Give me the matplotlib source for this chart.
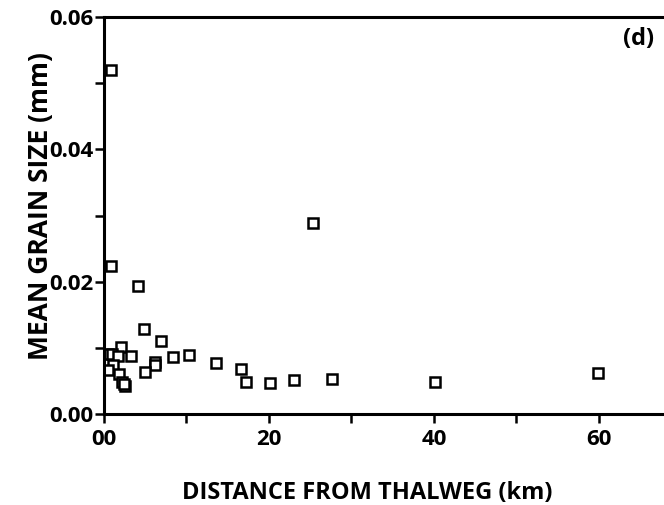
import matplotlib
matplotlib.use('Agg')
import matplotlib.pyplot as plt
from matplotlib.ticker import MultipleLocator

plt.rcParams['font.family'] = ['Open Sans', 'DejaVu Sans']
plt.rcParams['font.weight'] = 'bold'

# distance from thalweg (km) and mean grain size (mm)
distance_km = [0.85, 0.85, 4.1, 4.9, 6.9, 2.1, 0.5, 0.97, 1.66, 3.3,
               8.4, 10.3, 1.1, 0.5, 6.2, 6.2, 5.0, 1.85, 2.2, 2.5,
               2.4, 13.6, 16.6, 17.2, 20.1, 23.0, 25.4, 27.6, 40.1, 59.9]
grain_mm = [0.0520, 0.0224, 0.0193, 0.0128, 0.0110, 0.0102, 0.0091, 0.0091, 0.0088, 0.0088,
            0.0086, 0.0089, 0.0074, 0.0067, 0.0078, 0.0074, 0.0063, 0.0060, 0.0048, 0.0043,
            0.0046, 0.0077, 0.0068, 0.0049, 0.0047, 0.0052, 0.0289, 0.0053, 0.0048, 0.0062]

x_ticks = [0, 20, 40, 60]
x_tick_labels = ['00', '20', '40', '60']
y_ticks = [0.00, 0.02, 0.04, 0.06]
y_tick_labels = ['0.00', '0.02', '0.04', '0.06']

fig = plt.figure(figsize=(6.64, 5.05), dpi=100)
ax = fig.add_axes([104 / 664, 1 - 414 / 505, 1 - 104 / 664, (414 - 17) / 505])

ax.plot(distance_km, grain_mm, linestyle='none', marker='s', markersize=6.5,
        markerfacecolor='white', markeredgecolor='black', markeredgewidth=1.8)

ax.set_xlim(0, 67.9)
ax.set_ylim(0, 0.06)
ax.set_xticks(x_ticks)
ax.set_xticklabels(x_tick_labels)
ax.set_yticks(y_ticks)
ax.set_yticklabels(y_tick_labels)
ax.xaxis.set_minor_locator(MultipleLocator(10))
ax.yaxis.set_minor_locator(MultipleLocator(0.01))
ax.tick_params(which='both', direction='out', width=1.8, length=6.5, color='black')
ax.tick_params(axis='y', which='major', labelsize=16, pad=1)
ax.tick_params(axis='x', which='major', labelsize=16, pad=4)

for side in ['left', 'bottom', 'top']:
    ax.spines[side].set_linewidth(2.2)
ax.spines['right'].set_visible(False)

ax.set_xlabel('DISTANCE FROM THALWEG (km)', fontsize=17, fontweight='bold')
ax.xaxis.label.set_va('center')
ax.xaxis.set_label_coords(0.47, -0.2)
ax.set_ylabel('MEAN GRAIN SIZE (mm)', fontsize=19, fontweight='bold')
ax.yaxis.label.set_va('center')
ax.yaxis.set_label_coords(-0.114, 0.525)

ax.text(0.955, 0.945, '(d)', transform=ax.transAxes, fontsize=17,
        fontweight='bold', ha='center', va='center')

fig.savefig('out.png', dpi=100)
